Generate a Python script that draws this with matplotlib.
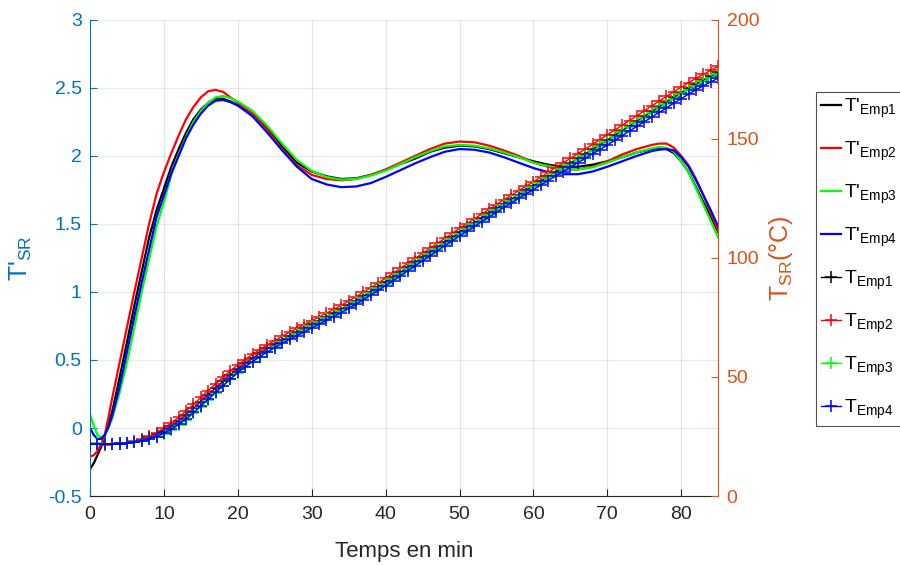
import matplotlib
matplotlib.use('Agg')

import matplotlib.pyplot as plt

plt.rcParams['font.family'] = ['Liberation Sans', 'DejaVu Sans']
plt.rcParams['mathtext.default'] = 'regular'

# derivative curves T'_SR (left axis)
time_tp = [0, 0.5, 1, 1.5, 2, 2.5, 3,
           4, 5, 6, 7, 8, 9, 10, 11, 12, 13, 14, 15, 16, 17, 18, 19, 20,
           22, 24, 26, 28, 30, 32, 34, 36, 38, 40, 42, 44, 46, 48, 50, 52, 54,
           56, 58, 60, 62, 64, 66, 68, 70, 72, 74, 76,
           77, 78, 79, 80, 81, 82, 83, 84, 85]

tp_emp1 = [-0.30, -0.26, -0.20, -0.14, -0.06, 0.03, 0.12,
           0.37, 0.63, 0.90, 1.15, 1.40, 1.60, 1.76, 1.92, 2.05, 2.17, 2.27, 2.34, 2.39, 2.42, 2.42, 2.40, 2.37,
           2.31, 2.20, 2.07, 1.95, 1.885, 1.85, 1.83, 1.835, 1.86, 1.895, 1.94, 1.98, 2.03, 2.06, 2.075, 2.07, 2.05,
           2.02, 1.99, 1.96, 1.935, 1.92, 1.92, 1.935, 1.96, 1.99, 2.025, 2.05,
           2.055, 2.05, 2.02, 1.96, 1.88, 1.77, 1.66, 1.55, 1.44]

tp_emp2 = [-0.21, -0.20, -0.17, -0.12, -0.05, 0.08, 0.22,
           0.48, 0.74, 1.00, 1.25, 1.50, 1.72, 1.88, 2.02, 2.15, 2.27, 2.36, 2.43, 2.475, 2.485, 2.47, 2.43, 2.39,
           2.31, 2.19, 2.05, 1.93, 1.86, 1.83, 1.82, 1.83, 1.86, 1.90, 1.95, 2.00, 2.05, 2.09, 2.105, 2.10, 2.075,
           2.04, 2.00, 1.95, 1.92, 1.90, 1.90, 1.92, 1.96, 2.01, 2.05, 2.08,
           2.09, 2.09, 2.06, 2.00, 1.93, 1.83, 1.71, 1.58, 1.45]

tp_emp3 = [0.10, 0.02, -0.05, -0.07, -0.05, 0.00, 0.07,
           0.26, 0.48, 0.74, 1.00, 1.24, 1.48, 1.66, 1.86, 2.01, 2.14, 2.25, 2.33, 2.39, 2.43, 2.44, 2.425, 2.40,
           2.33, 2.22, 2.09, 1.97, 1.89, 1.845, 1.825, 1.83, 1.855, 1.89, 1.94, 1.99, 2.035, 2.07, 2.08, 2.075, 2.055,
           2.025, 1.99, 1.95, 1.925, 1.905, 1.90, 1.915, 1.95, 1.99, 2.025, 2.055,
           2.065, 2.06, 2.03, 1.96, 1.88, 1.76, 1.64, 1.52, 1.40]

tp_emp4 = [0.00, -0.05, -0.08, -0.08, -0.05, 0.01, 0.09,
           0.30, 0.56, 0.82, 1.07, 1.31, 1.55, 1.71, 1.87, 2.00, 2.13, 2.23, 2.31, 2.37, 2.405, 2.41, 2.395, 2.37,
           2.29, 2.17, 2.04, 1.92, 1.83, 1.79, 1.77, 1.775, 1.80, 1.845, 1.895, 1.945, 1.99, 2.03, 2.05, 2.045, 2.025,
           1.99, 1.95, 1.91, 1.88, 1.865, 1.865, 1.885, 1.92, 1.96, 2.00, 2.035,
           2.045, 2.05, 2.04, 1.99, 1.92, 1.82, 1.71, 1.60, 1.48]

# temperature T_SR in degC (right axis), one value per minute
time_t = list(range(0, 86))

t_emp1 = [22.0, 22.0, 21.9, 22.0, 22.1, 22.4, 22.9, 23.6, 24.6, 25.9,
          27.5, 29.4, 31.6, 34.0, 36.8, 39.7, 42.6, 45.4, 48.2, 50.9,
          53.4, 55.7, 57.9, 60.0, 62.0, 63.8, 65.6, 67.3, 68.9, 70.5,
          72.1, 73.7, 75.3, 76.9, 78.5, 80.3, 82.1, 84.0, 85.9, 87.9,
          89.9, 91.9, 94.0, 96.1, 98.2, 100.3, 102.4, 104.5, 106.6, 108.7,
          110.8, 112.8, 114.8, 116.8, 118.8, 120.8, 122.8, 124.7, 126.6, 128.5,
          130.4, 132.3, 134.2, 136.1, 138.0, 139.9, 141.8, 143.7, 145.6, 147.5,
          149.5, 151.5, 153.5, 155.5, 157.5, 159.5, 161.5, 163.5, 165.5, 167.5,
          169.4, 171.3, 173.1, 174.8, 176.4, 178.0]

t_emp2 = [21.7, 21.7, 21.6, 21.7, 21.9, 22.3, 23.0, 23.9, 25.1, 26.6,
          28.5, 30.7, 33.1, 35.7, 38.5, 41.4, 44.3, 47.1, 49.9, 52.6,
          55.1, 57.3, 59.5, 61.5, 63.5, 65.3, 67.1, 68.8, 70.4, 72.0,
          73.6, 75.2, 76.8, 78.4, 80.1, 81.9, 83.7, 85.6, 87.5, 89.5,
          91.5, 93.5, 95.6, 97.7, 99.8, 101.9, 104.0, 106.1, 108.2, 110.3,
          112.4, 114.4, 116.4, 118.4, 120.4, 122.4, 124.4, 126.3, 128.2, 130.1,
          132.0, 133.9, 135.9, 137.9, 139.9, 141.8, 143.7, 145.7, 147.7, 149.7,
          151.7, 153.7, 155.7, 157.7, 159.7, 161.8, 163.8, 165.8, 167.8, 169.8,
          171.7, 173.6, 175.4, 177.1, 178.8, 180.4]

t_emp3 = [22.2, 22.1, 22.0, 22.0, 22.0, 22.2, 22.5, 23.0, 23.8, 24.8,
          26.1, 27.8, 29.8, 32.1, 34.7, 37.5, 40.4, 43.3, 46.2, 49.0,
          51.7, 54.1, 56.4, 58.6, 60.7, 62.6, 64.5, 66.3, 68.0, 69.7,
          71.4, 73.0, 74.6, 76.2, 77.9, 79.6, 81.4, 83.3, 85.2, 87.2,
          89.2, 91.2, 93.3, 95.4, 97.5, 99.6, 101.7, 103.8, 105.9, 108.0,
          110.1, 112.1, 114.1, 116.1, 118.1, 120.1, 122.1, 124.0, 125.9, 127.8,
          129.7, 131.6, 133.5, 135.4, 137.3, 139.2, 141.1, 143.0, 144.9, 146.8,
          148.8, 150.8, 152.8, 154.8, 156.8, 158.8, 160.8, 162.8, 164.8, 166.8,
          168.7, 170.6, 172.4, 174.1, 175.7, 177.2]

t_emp4 = [21.9, 21.9, 21.8, 21.8, 21.9, 22.1, 22.5, 23.1, 23.9, 25.0,
          26.4, 28.1, 30.2, 32.5, 35.1, 37.9, 40.8, 43.6, 46.4, 49.1,
          52.0, 54.3, 56.5, 58.6, 60.5, 62.3, 64.1, 65.8, 67.4, 69.0,
          70.6, 72.2, 73.8, 75.4, 77.0, 78.8, 80.6, 82.5, 84.4, 86.4,
          88.4, 90.4, 92.5, 94.6, 96.7, 98.8, 100.9, 103.0, 105.1, 107.2,
          109.2, 111.2, 113.2, 115.2, 117.2, 119.2, 121.2, 123.1, 125.0, 126.9,
          128.7, 130.6, 132.5, 134.4, 136.2, 138.1, 140.0, 141.8, 143.7, 145.5,
          147.4, 149.4, 151.3, 153.3, 155.2, 157.2, 159.1, 161.1, 163.0, 165.0,
          166.9, 168.8, 170.6, 172.3, 173.9, 175.5]

emp_names = ['Emp1', 'Emp2', 'Emp3', 'Emp4']
emp_colors = ['#000000', '#FF0000', '#00FF00', '#0000FF']

blue = '#0072BD'
orange = '#D95319'
dark = '#262626'

fig = plt.figure(figsize=(9, 5.65), dpi=100)
ax1 = fig.add_axes([0.100, 0.122, 0.698, 0.843])

# left axis: T'
for vals, name, col in zip([tp_emp1, tp_emp2, tp_emp3, tp_emp4], emp_names, emp_colors):
    ax1.plot(time_tp, vals, color=col, lw=1.6, label="T'$_{%s}$" % name)

ax1.set_xlim(0, 85)
ax1.set_ylim(-0.5, 3)
ax1.set_yticks([-0.5, 0, 0.5, 1, 1.5, 2, 2.5, 3])
ax1.set_yticklabels(['-0.5', '0', '0.5', '1', '1.5', '2', '2.5', '3'])
ax1.set_xticks(range(0, 90, 10))
ax1.yaxis.grid(True, color=blue, alpha=0.13, lw=0.8)
ax1.xaxis.grid(True, color=dark, alpha=0.12, lw=0.8)
ax1.set_axisbelow(True)
ax1.tick_params(axis='y', colors=blue, direction='in', labelsize=14, length=5, pad=6)
ax1.tick_params(axis='x', colors=dark, direction='in', labelsize=14, length=5, pad=7)
ax1.spines['left'].set_color(blue)
ax1.spines['bottom'].set_color(dark)
ax1.spines['top'].set_visible(False)
ax1.spines['right'].set_visible(False)
ax1.set_xlabel('Temps en min', fontsize=16, color=dark, labelpad=13)
ax1.set_ylabel("T'$_{SR}$", fontsize=18, color=blue, labelpad=10)

# right axis: T
ax2 = ax1.twinx()
for vals, name, col in zip([t_emp1, t_emp2, t_emp3, t_emp4], emp_names, emp_colors):
    ax2.plot(time_t, vals, color=col, lw=1, marker='+', ms=8, mew=1.1,
             label="T$_{%s}$" % name)

ax2.set_ylim(0, 200)
ax2.set_yticks([0, 50, 100, 150, 200])
ax2.tick_params(axis='y', colors=orange, direction='in', labelsize=14, length=5, pad=6)
ax2.spines['right'].set_color(orange)
ax2.spines['left'].set_visible(False)
ax2.spines['top'].set_visible(False)
ax2.spines['bottom'].set_visible(False)
ax2.set_ylabel("T$_{SR}$(°C)", fontsize=18, color=orange, labelpad=6)

h1, l1 = ax1.get_legend_handles_labels()
h2, l2 = ax2.get_legend_handles_labels()
leg = fig.legend(h1 + h2, l1 + l2, loc='upper left', bbox_to_anchor=(0.907, 0.838),
                 fontsize=14, frameon=True, fancybox=False, handlelength=1.0,
                 handletextpad=0.2, labelspacing=1.02, borderpad=0.25, borderaxespad=0)
leg.get_frame().set_edgecolor('#262626')
leg.get_frame().set_linewidth(0.8)

plt.savefig('out.png', dpi=100)
